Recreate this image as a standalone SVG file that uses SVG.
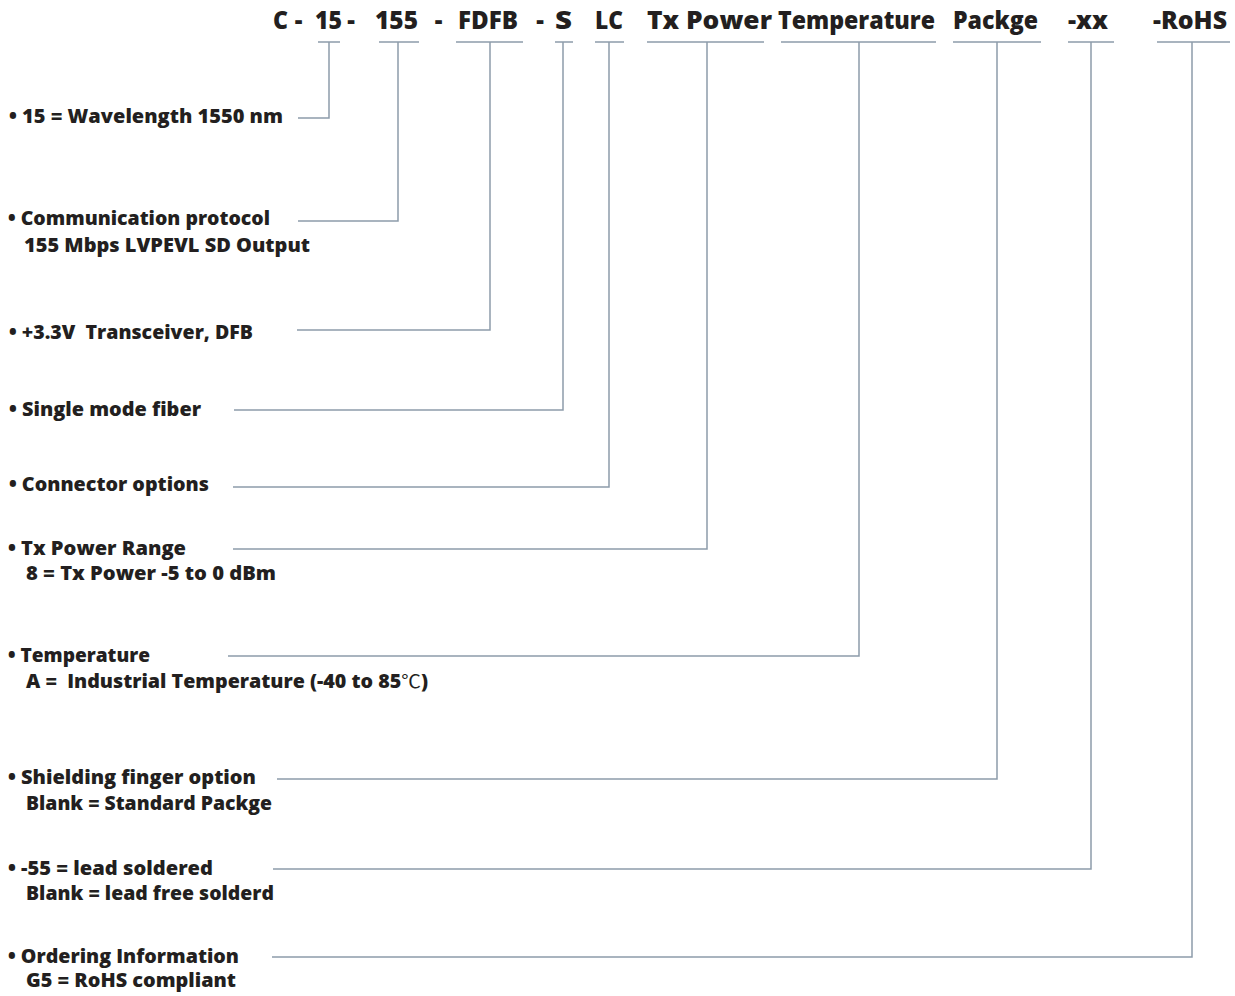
<svg xmlns="http://www.w3.org/2000/svg" width="1235" height="996" viewBox="0 0 1235 996">
<style>
.hd{font-family:"Open Sans","Liberation Sans",sans-serif;font-weight:800;font-size:24px;fill:#231f20}
.lb{font-family:"Open Sans","Liberation Sans",sans-serif;font-weight:800;font-size:18.5px;fill:#231f20}
.cj{font-family:"Noto Sans CJK SC",sans-serif;font-weight:normal}
.ln{fill:none;stroke:#8d9cab;stroke-width:1.5}
</style>
<rect width="1235" height="996" fill="#ffffff"/>
<g id="header">
<text class="hd" x="273" y="29" textLength="15" lengthAdjust="spacingAndGlyphs">C</text>
<text class="hd" x="298.5" y="29" text-anchor="middle">-</text>
<text class="hd" x="315" y="29" textLength="27" lengthAdjust="spacingAndGlyphs">15</text>
<text class="hd" x="351" y="29" text-anchor="middle">-</text>
<text class="hd" x="375" y="29" textLength="43" lengthAdjust="spacingAndGlyphs">155</text>
<text class="hd" x="438.5" y="29" text-anchor="middle">-</text>
<text class="hd" x="458" y="29" textLength="60" lengthAdjust="spacingAndGlyphs">FDFB</text>
<text class="hd" x="540" y="29" text-anchor="middle">-</text>
<text class="hd" x="555" y="29" textLength="17" lengthAdjust="spacingAndGlyphs">S</text>
<text class="hd" x="595" y="29" textLength="28" lengthAdjust="spacingAndGlyphs">LC</text>
<text class="hd" x="647" y="29" textLength="125" lengthAdjust="spacingAndGlyphs">Tx Power</text>
<text class="hd" x="778" y="29" textLength="157" lengthAdjust="spacingAndGlyphs">Temperature</text>
<text class="hd" x="953" y="29" textLength="85" lengthAdjust="spacingAndGlyphs">Packge</text>
<text class="hd" x="1068" y="29" textLength="40" lengthAdjust="spacingAndGlyphs">-xx</text>
<text class="hd" x="1153" y="29" textLength="74" lengthAdjust="spacingAndGlyphs">-RoHS</text>
</g>
<g id="n1"><text class="lb" x="9" y="123" textLength="274" lengthAdjust="spacingAndGlyphs">• 15 = Wavelength 1550 nm</text></g>
<g id="n2"><text class="lb" x="8" y="225" textLength="262" lengthAdjust="spacingAndGlyphs">• Communication protocol</text>
<text class="lb" x="24" y="252" textLength="286" lengthAdjust="spacingAndGlyphs">155 Mbps LVPEVL SD Output</text></g>
<g id="n3"><text class="lb" x="9" y="339" textLength="244" lengthAdjust="spacingAndGlyphs" xml:space="preserve">• +3.3V  Transceiver, DFB</text></g>
<g id="n4"><text class="lb" x="9" y="416" textLength="192" lengthAdjust="spacingAndGlyphs">• Single mode fiber</text></g>
<g id="n5"><text class="lb" x="9" y="491" textLength="200" lengthAdjust="spacingAndGlyphs">• Connector options</text></g>
<g id="n6"><text class="lb" x="8" y="555" textLength="178" lengthAdjust="spacingAndGlyphs">• Tx Power Range</text>
<text class="lb" x="26" y="580" textLength="250" lengthAdjust="spacingAndGlyphs">8 = Tx Power -5 to 0 dBm</text></g>
<g id="n7"><text class="lb" x="8" y="662" textLength="142" lengthAdjust="spacingAndGlyphs">• Temperature</text>
<text class="lb" x="26" y="688" textLength="402" lengthAdjust="spacingAndGlyphs" xml:space="preserve">A =  Industrial Temperature (-40 to 85<tspan class="cj">℃</tspan>)</text></g>
<g id="n8"><text class="lb" x="8" y="784" textLength="248" lengthAdjust="spacingAndGlyphs">• Shielding finger option</text>
<text class="lb" x="26" y="810" textLength="246" lengthAdjust="spacingAndGlyphs">Blank = Standard Packge</text></g>
<g id="n9"><text class="lb" x="8" y="875" textLength="205" lengthAdjust="spacingAndGlyphs">• -55 = lead soldered</text>
<text class="lb" x="26" y="900" textLength="248" lengthAdjust="spacingAndGlyphs">Blank = lead free solderd</text></g>
<g id="n10"><text class="lb" x="8" y="963" textLength="231" lengthAdjust="spacingAndGlyphs">• Ordering Information</text>
<text class="lb" x="26" y="987" textLength="210" lengthAdjust="spacingAndGlyphs">G5 = RoHS compliant</text></g>
<g id="connectors" class="ln">
<path d="M318,42H340M379,42H419M456,42H523M555,42H573M595,42H624M647,42H764M781,42H936M953,42H1041M1068,42H1114M1157,42H1230"/>
<path d="M298,118H329V42"/>
<path d="M298,221H398V42"/>
<path d="M297,330H490V42"/>
<path d="M234,410H563V42"/>
<path d="M233,487H609V42"/>
<path d="M233,549H707V42"/>
<path d="M228,656H859V42"/>
<path d="M277,779H997V42"/>
<path d="M273,869H1091V42"/>
<path d="M272,957H1192V42"/>
</g>
</svg>
